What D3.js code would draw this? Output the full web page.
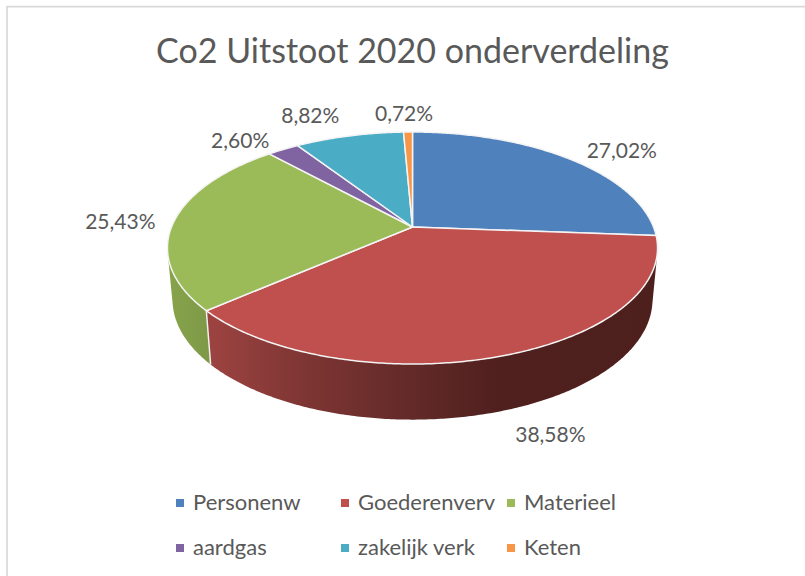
<!DOCTYPE html>
<html>
<head>
<meta charset="utf-8">
<script src="https://cdn.jsdelivr.net/npm/d3@7"></script>
<style>
  html, body { margin: 0; padding: 0; background: #fff; }
  svg { display: block; }
  text { font-family: Lato, "Open Sans", sans-serif; fill: #595959; }
</style>
</head>
<body>
<svg id="chart" width="805" height="576"></svg>
<script>
const categories = ["Personenw", "Goederenverv", "Materieel", "aardgas", "zakelijk verk", "Keten"];
const shares = [27.02, 38.58, 25.43, 2.60, 8.82, 0.72];
const colors = ["#4f81bd", "#c0504d", "#9bbb59", "#8064a2", "#4bacc6", "#f79646"];
const chartTitle = "Co2 Uitstoot 2020 onderverdeling";

// label offset from the rim point at the middle of each slice
const labelOffsets = [[52, -1], [46, 86], [-54, 8], [-43, -1], [-39, -13], [-4, -11]];

// side wall shading, running left to right across the picture
const wallShades = {
  Materieel: { stops: [170, 212], colors: ["#86a34b", "#7e9947"] },
  Goederenverv: { stops: [212, 300, 400, 500, 660], colors: ["#9c4341", "#7f3634", "#652b29", "#4f201e", "#4d1f1d"] }
};

const width = 805;
const height = 576;

// the pie is seen in perspective, so the centre sits above the middle of the ellipse
const perspective = 0.181;
const topFace = { x: 412.5, y: 227, rx: 241, ry: 112.2 };
const bottomFace = { x: 412.5, y: 278, rx: 236, ry: 116 };

function project(face, angle) {
  const u = Math.sin(angle);
  const v = -Math.cos(angle);
  const d = 1 - perspective * v;
  return [face.x + face.rx * u / d, face.y + face.ry * v / d];
}

const svg = d3.select("#chart");
const color = d3.scaleOrdinal().domain(categories).range(colors);
const line = d3.line();

const rows = categories.map((c, i) => ({ category: c, share: shares[i], offset: labelOffsets[i] }));
const slices = d3.pie().sort(null).value(d => d.share)(rows);

// chart frame, the screenshot cuts it off at the right and bottom
svg.append("path")
  .attr("d", "M7,576V6.7H805")
  .attr("fill", "none")
  .attr("stroke", "#d9d9d9")
  .attr("stroke-width", 1.7);

svg.append("text")
  .attr("x", 412.5)
  .attr("y", 63)
  .attr("text-anchor", "middle")
  .attr("font-size", 34)
  .text(chartTitle);

function arcAngles(a0, a1) {
  const n = Math.max(2, Math.ceil((a1 - a0) / 0.01));
  return d3.range(n + 1).map(i => a0 + (a1 - a0) * i / n);
}

// gradients for the side walls
const defs = svg.append("defs");
Object.keys(wallShades).forEach((name, k) => {
  const shade = wallShades[name];
  const gradient = defs.append("linearGradient")
    .attr("id", "wall" + k)
    .attr("gradientUnits", "userSpaceOnUse")
    .attr("x1", shade.stops[0])
    .attr("x2", shade.stops[shade.stops.length - 1])
    .attr("y1", 0)
    .attr("y2", 0);
  const offset = d3.scaleLinear().domain(d3.extent(shade.stops)).range([0, 1]);
  shade.stops.forEach((stop, i) => {
    gradient.append("stop").attr("offset", offset(stop)).attr("stop-color", shade.colors[i]);
  });
  shade.url = "url(#wall" + k + ")";
});

// side walls: hull of both rims, green first so red lies over it
const walls = Object.keys(wallShades).map(name => {
  const s = slices.find(d => d.data.category === name);
  const angles = arcAngles(s.startAngle, s.endAngle);
  const points = angles.map(a => project(topFace, a)).concat(angles.map(a => project(bottomFace, a)));
  return { hull: d3.polygonHull(points), fill: wallShades[name].url };
});

svg.append("g").selectAll("path")
  .data(walls)
  .join("path")
  .attr("d", d => line(d.hull) + "Z")
  .attr("fill", d => d.fill);

// white seam where red and green walls meet
const seam = slices[1].endAngle;
svg.append("path")
  .attr("d", line([project(topFace, seam), project(bottomFace, seam)]))
  .attr("stroke", "#f2f2f2")
  .attr("stroke-width", 1.5);

// top face
svg.append("g").selectAll("path")
  .data(slices)
  .join("path")
  .attr("d", s => {
    const rim = arcAngles(s.startAngle, s.endAngle).map(a => project(topFace, a));
    return line([[topFace.x, topFace.y], ...rim]) + "Z";
  })
  .attr("fill", s => color(s.data.category))
  .attr("stroke", "#f4f4f4")
  .attr("stroke-width", 1.5)
  .attr("stroke-linejoin", "round");

// data labels
svg.append("g").selectAll("text")
  .data(slices)
  .join("text")
  .attr("x", s => project(topFace, (s.startAngle + s.endAngle) / 2)[0] + s.data.offset[0])
  .attr("y", s => project(topFace, (s.startAngle + s.endAngle) / 2)[1] + s.data.offset[1])
  .attr("text-anchor", "middle")
  .attr("font-size", 21)
  .text(s => s.data.share.toFixed(2).replace(".", ",") + "%");

// legend, 3 columns and 2 rows
const legendX = d3.scaleOrdinal().domain([0, 1, 2]).range([176, 341, 507]);
const legendY = d3.scaleOrdinal().domain([0, 1]).range([510, 555]);

const legend = svg.append("g").selectAll("g")
  .data(categories)
  .join("g")
  .attr("transform", (c, i) => "translate(" + legendX(i % 3) + "," + legendY(Math.floor(i / 3)) + ")");

legend.append("rect")
  .attr("x", 0)
  .attr("y", -11)
  .attr("width", 8)
  .attr("height", 8)
  .attr("fill", c => color(c));

legend.append("text")
  .attr("x", 17)
  .attr("font-size", 22)
  .text(c => c);
</script>
</body>
</html>
